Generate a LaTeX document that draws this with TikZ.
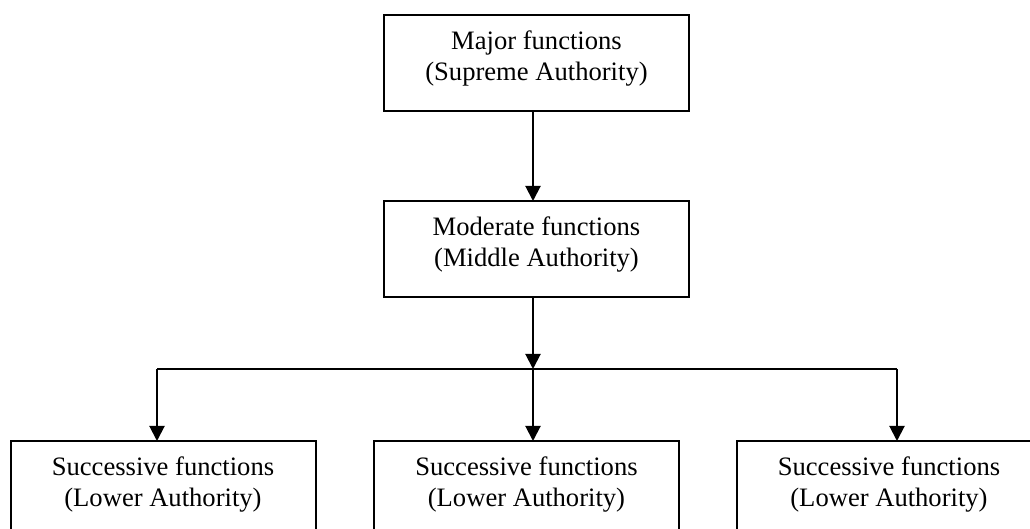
\documentclass[tikz,border=0pt]{standalone}
\usepackage{fontspec}
\setmainfont{Liberation Serif}
\usetikzlibrary{arrows.meta}

\tikzset{
  box/.style={draw, line width=1pt, minimum width=152.5pt, minimum height=48pt,
              inner sep=0pt, outer sep=0pt},
  lbl/.style={anchor=base, align=center, inner sep=0pt,
              font=\fontsize{13.3}{15.5}\selectfont},
  link/.style={line width=1pt},
  arr/.style={line width=1pt, -{Triangle[width=7.5pt,length=7.5pt]}}
}

\begin{document}
\begin{tikzpicture}[x=0.5pt, y=-0.5pt]
  \useasboundingbox (0,0) rectangle (1030,529);
  \clip (0,0) rectangle (1030,529);

  % boxes of the hierarchy
  \node[box] (top) at (536.5,63)  {};
  \node[box] (mid) at (536.5,249) {};
  \node[box] (b1)  at (163,489)   {};
  \node[box] (b2)  at (526.5,489) {};
  \node[box] (b3)  at (889,489)   {};

  % labels; the base anchor sits on the second line's baseline
  \node[lbl] (ttop) at ([yshift=-33pt]top.north) {Major functions\\(Supreme Authority)};
  \node[lbl] (tmid) at ([yshift=-33pt]mid.north) {Moderate functions\\(Middle Authority)};
  \node[lbl] (tb1)  at ([yshift=-33pt]b1.north)  {Successive functions\\(Lower Authority)};
  \node[lbl] (tb2)  at ([yshift=-33pt]b2.north)  {Successive functions\\(Lower Authority)};
  \node[lbl] (tb3)  at ([yshift=-33pt]b3.north)  {Successive functions\\(Lower Authority)};

  % branching points
  \coordinate (j)  at (533,369);
  \coordinate (jl) at (157,369);
  \coordinate (jr) at (897,369);

  % connectors
  \draw[arr] (top.south -| j) -- (mid.north -| j);
  \draw[arr] (mid.south -| j) -- (j);
  \draw[link] (jl) -- (jr);
  \draw[arr] (jl) -- (jl |- b1.north);
  \draw[arr] (j)  -- (j  |- b2.north);
  \draw[arr] (jr) -- (jr |- b3.north);
\end{tikzpicture}
\end{document}
